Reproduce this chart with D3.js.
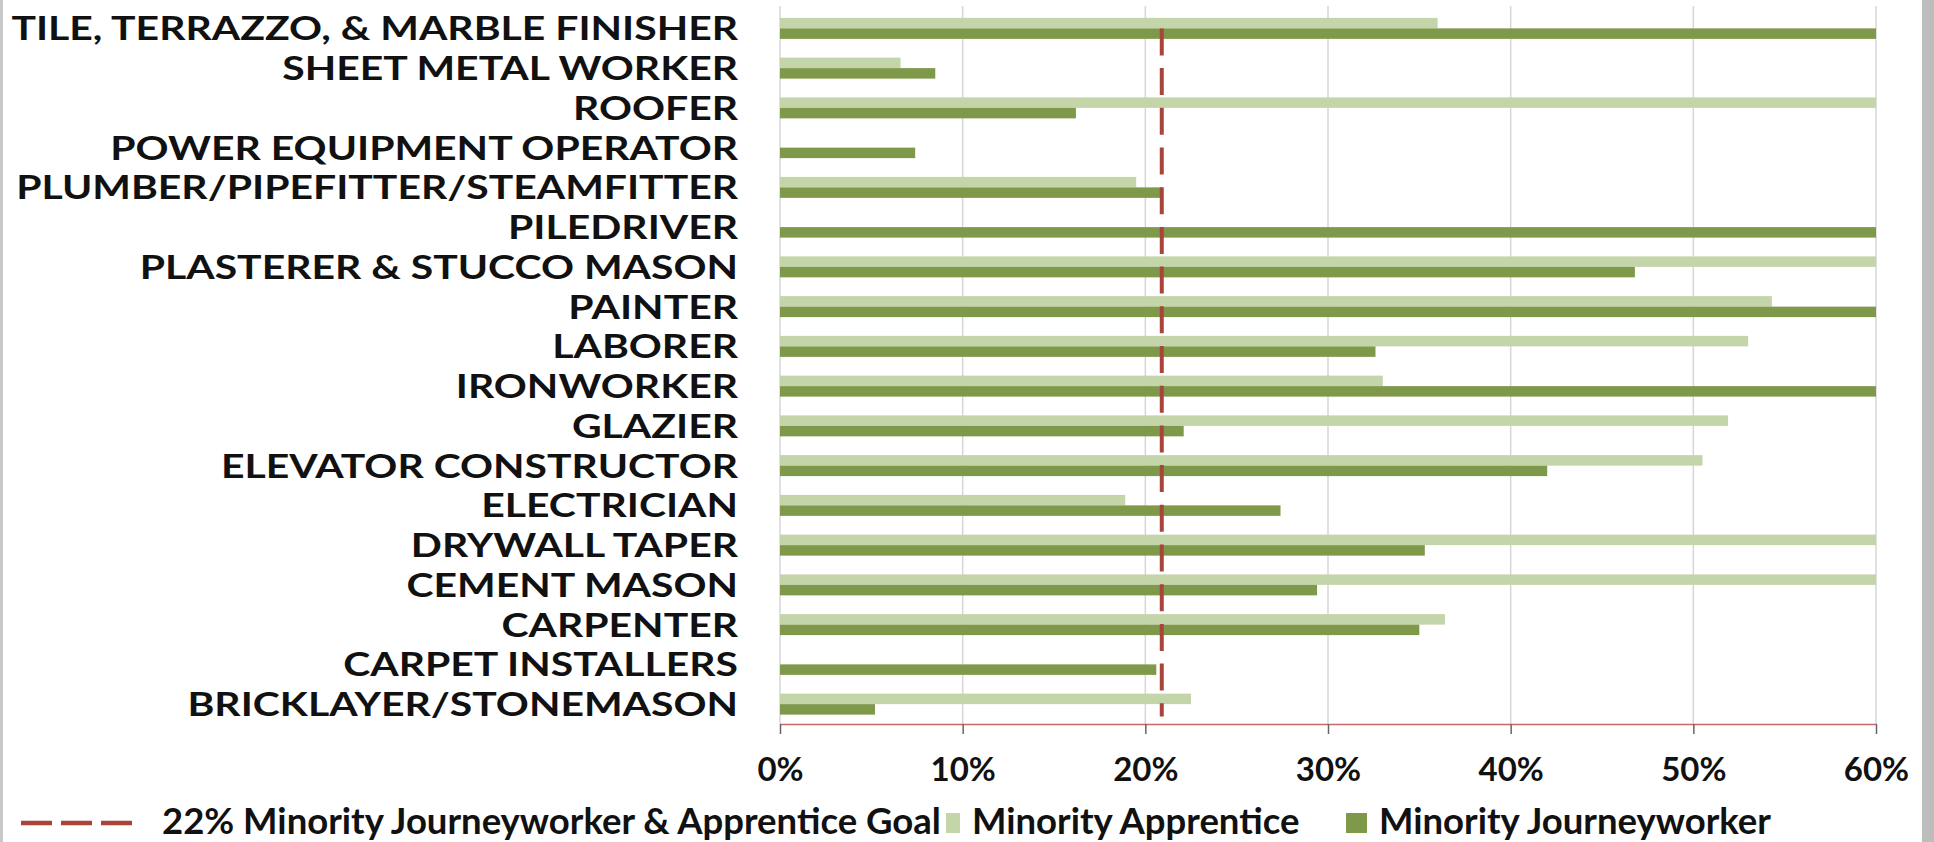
<!DOCTYPE html>
<html>
<head>
<meta charset="utf-8">
<script src="https://cdn.jsdelivr.net/npm/d3@7/dist/d3.min.js"></script>
<style>
body { margin: 0; background: #fff; }
svg { display: block; font-family: Lato, "Open Sans", sans-serif; font-weight: bold; }
</style>
</head>
<body>
<svg width="1934" height="842"></svg>
<script>
var trades = [
    "TILE, TERRAZZO, & MARBLE FINISHER",
    "SHEET METAL WORKER",
    "ROOFER",
    "POWER EQUIPMENT OPERATOR",
    "PLUMBER/PIPEFITTER/STEAMFITTER",
    "PILEDRIVER",
    "PLASTERER & STUCCO MASON",
    "PAINTER",
    "LABORER",
    "IRONWORKER",
    "GLAZIER",
    "ELEVATOR CONSTRUCTOR",
    "ELECTRICIAN",
    "DRYWALL TAPER",
    "CEMENT MASON",
    "CARPENTER",
    "CARPET INSTALLERS",
    "BRICKLAYER/STONEMASON"
];
// percent values (bars past 60% are cut at the axis end)
var apprentice    = [36.0, 6.6, 60, 0, 19.5, 0, 60, 54.3, 53.0, 33.0, 51.9, 50.5, 18.9, 60, 60, 36.4, 0, 22.5];
var journeyworker = [60, 8.5, 16.2, 7.4, 20.9, 60, 46.8, 60, 32.6, 60, 22.1, 42.0, 27.4, 35.3, 29.4, 35.0, 20.6, 5.2];
var tickValues = [0, 10, 20, 30, 40, 50, 60];
var goal = 20.9;
var goalLabel = "22% Minority Journeyworker & Apprentice Goal";
var seriesNames = ["Minority Apprentice", "Minority Journeyworker"];

var LIGHT = "#c4d5aa", DARK = "#7f994a", GOALRED = "#a9443b";

var svg = d3.select("svg");

// frame strips left and right
svg.append("rect").attr("x", 0).attr("y", 0).attr("width", 3).attr("height", 842).attr("fill", "#c8c8c8");
svg.append("rect").attr("x", 1922).attr("y", 0).attr("width", 12).attr("height", 842).attr("fill", "#bdbdbd");

var x = d3.scaleLinear().domain([0, 60]).range([780, 1876]).clamp(true);
var y = d3.scaleBand().domain(trades).range([8.5, 724]).paddingInner(0.472).paddingOuter(0.236);
var ySub = d3.scaleBand().domain(["a", "j"]).range([0, y.bandwidth()]);

// gridlines
svg.append("g").selectAll("line")
    .data(tickValues)
    .enter().append("line")
    .attr("x1", function (d) { return x(d); })
    .attr("x2", function (d) { return x(d); })
    .attr("y1", 6)
    .attr("y2", 724)
    .attr("stroke", "#d6d6d6")
    .attr("stroke-width", 1.5);

var rows = svg.append("g").selectAll("g")
    .data(trades)
    .enter().append("g")
    .attr("transform", function (d) { return "translate(0," + y(d) + ")"; });

rows.append("rect")
    .attr("x", x(0))
    .attr("y", ySub("a"))
    .attr("height", ySub.bandwidth())
    .attr("width", function (d, i) { return x(apprentice[i]) - x(0); })
    .attr("fill", LIGHT);

rows.append("rect")
    .attr("x", x(0))
    .attr("y", ySub("j"))
    .attr("height", ySub.bandwidth())
    .attr("width", function (d, i) { return x(journeyworker[i]) - x(0); })
    .attr("fill", DARK);

// goal line
svg.append("line")
    .attr("x1", x(goal)).attr("x2", x(goal))
    .attr("y1", y(trades[0]) + ySub("j"))
    .attr("y2", y(trades[trades.length - 1]) + y.bandwidth() + 2)
    .attr("stroke", GOALRED)
    .attr("stroke-width", 4)
    .attr("stroke-dasharray", "27,12.7");

// category labels: the original face is narrow, so a smaller size is widened
svg.append("g").selectAll("text")
    .data(trades)
    .enter().append("text")
    .attr("transform", function (d) { return "translate(738," + (y(d) + y.bandwidth() / 2) + ") scale(1.24,1)"; })
    .attr("dy", "0.36em")
    .attr("text-anchor", "end")
    .attr("font-size", 33)
    .attr("fill", "#111")
    .text(function (d) { return d; });

// x axis
var xAxis = svg.append("g")
    .attr("transform", "translate(0,724)")
    .call(d3.axisBottom(x).tickValues(tickValues).tickFormat(function (d) { return d + "%"; }).tickSize(10).tickSizeOuter(0).tickPadding(24));
xAxis.select(".domain").attr("stroke", "#c9686a").attr("stroke-width", 1.5);
xAxis.selectAll(".tick line").attr("stroke", "#666").attr("stroke-width", 1.5);
xAxis.selectAll(".tick text")
    .attr("font-family", "Lato, sans-serif")
    .attr("font-weight", "bold")
    .attr("font-size", 33)
    .attr("fill", "#111");

// legend
var legend = svg.append("g");
legend.append("line")
    .attr("x1", 21).attr("x2", 132)
    .attr("y1", 823).attr("y2", 823)
    .attr("stroke", GOALRED)
    .attr("stroke-width", 4.5)
    .attr("stroke-dasharray", "31,9");
legend.append("text")
    .attr("x", 162).attr("y", 834)
    .attr("font-size", 36.5)
    .attr("fill", "#111")
    .text(goalLabel);

var keyX = [946, 1346];
var keyW = [14, 21];
var textX = [972, 1379];
var keyColors = [LIGHT, DARK];
seriesNames.forEach(function (name, i) {
    legend.append("rect")
        .attr("x", keyX[i]).attr("y", 813)
        .attr("width", keyW[i]).attr("height", 20)
        .attr("fill", keyColors[i]);
    legend.append("text")
        .attr("x", textX[i]).attr("y", 834)
        .attr("font-size", 36.5)
        .attr("fill", "#111")
        .text(name);
});
</script>
</body>
</html>
